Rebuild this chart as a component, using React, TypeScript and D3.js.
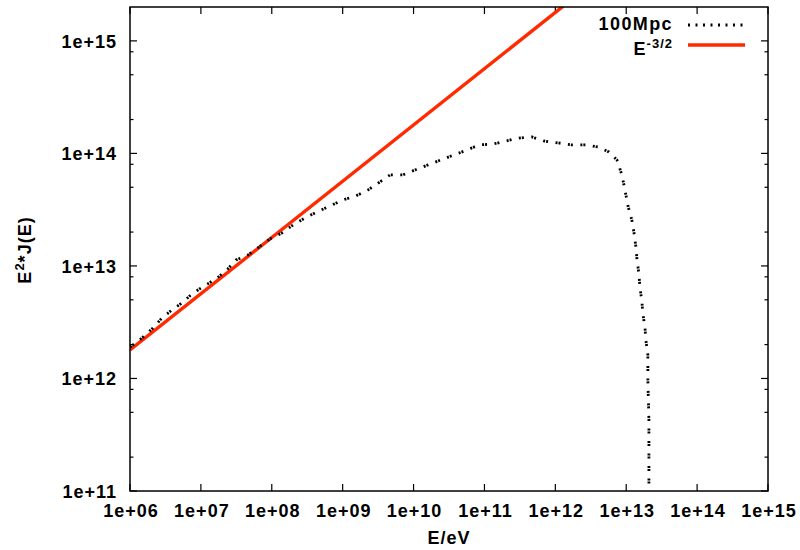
import React from "react";
import * as d3 from "d3";

const energy = [
  1.0e6, 1.48e6, 2.11e6, 2.82e6, 3.91e6, 5.41e6, 7.48e6, 1.11e7, 1.63e7, 2.33e7,
  3.13e7, 4.61e7, 6.38e7, 9.44e7, 1.39e8, 1.99e8, 2.94e8, 4.35e8, 6.62e8, 1.01e9,
  1.54e9, 2.28e9, 3.36e9, 4.65e9, 7.08e9, 1.05e10, 1.6e10, 2.43e10, 3.72e10, 5.66e10,
  8.36e10, 1.32e11, 2.01e11, 3.07e11, 4.68e11, 6.9e11, 1.09e12, 1.71e12, 2.7e12, 3.99e12,
  5.7e12, 7.4e12, 8.69e12, 9.59e12, 1.06e13, 1.2e13, 1.29e13, 1.37e13, 1.42e13, 1.51e13,
  1.56e13, 1.66e13, 1.72e13, 1.84e13, 1.9e13, 2.02e13, 2.02e13, 2.09e13, 2.09e13,
];
const flux100Mpc = [
  1.9e12, 2.29e12, 2.81e12, 3.45e12, 4.06e12, 4.69e12, 5.64e12, 6.64e12, 7.66e12, 9.2e12,
  1.13e13, 1.25e13, 1.45e13, 1.74e13, 1.96e13, 2.31e13, 2.67e13, 3.02e13, 3.41e13, 3.86e13,
  4.19e13, 4.74e13, 5.58e13, 6.44e13, 6.44e13, 7.13e13, 7.9e13, 8.75e13, 9.7e13, 1.07e14,
  1.19e14, 1.21e14, 1.29e14, 1.37e14, 1.4e14, 1.29e14, 1.24e14, 1.19e14, 1.19e14, 1.14e14,
  1.03e14, 8.75e13, 6.44e13, 4.74e13, 3.41e13, 2.56e13, 1.96e13, 1.47e13, 1.13e13, 8.5e12,
  6.5e12, 4.9e12, 3.74e12, 2.81e12, 2.15e12, 1.62e12, 9.7e11, 4.3e11, 5e10,
];
const powerLawE = [1e6, 1e15];
const powerLawFlux = [1.79e12, 5.66e16];

const xTicks = [1e6, 1e7, 1e8, 1e9, 1e10, 1e11, 1e12, 1e13, 1e14, 1e15];
const xTickLabels = ["1e+06", "1e+07", "1e+08", "1e+09", "1e+10", "1e+11", "1e+12", "1e+13", "1e+14", "1e+15"];
const yTicks = [1e11, 1e12, 1e13, 1e14, 1e15];
const yTickLabels = ["1e+11", "1e+12", "1e+13", "1e+14", "1e+15"];
const yMinorMultipliers = [2, 5, 8];

const FONT = "'Liberation Sans', Arial, sans-serif";

export default function App() {
  const L = 130, R = 768, T = 7, B = 491;
  const x = d3.scaleLog().domain([1e6, 1e15]).range([L, R]);
  const y = d3.scaleLog().domain([1e11, 2e15]).range([B, T]);

  const pts: [number, number][] = energy.map((e, i) => [e, flux100Mpc[i]]);
  const plPts: [number, number][] = powerLawE.map((e, i) => [e, powerLawFlux[i]]);
  const line = d3.line<[number, number]>().x((d) => x(d[0])).y((d) => y(d[1]));

  const yMinor: number[] = [];
  yTicks.forEach((t) => yMinorMultipliers.forEach((m) => {
    const v = t * m;
    if (v < 2e15) yMinor.push(v);
  }));

  const textStyle = { fontFamily: FONT, fontWeight: 700, fontSize: 18, letterSpacing: 1, fill: "#000" } as const;

  return (
    <svg width={800} height={550} style={{ position: "absolute", left: 0, top: 0, background: "#fff" }}>
      <rect x={0} y={0} width={800} height={550} fill="#fff" />
      <defs>
        <clipPath id="plotclip">
          <rect x={L} y={T} width={R - L} height={B - T} />
        </clipPath>
      </defs>

      {/* ticks */}
      <g stroke="#000" strokeWidth={1.2}>
        {xTicks.map((t, i) => (
          <g key={"xt" + i}>
            <line x1={x(t)} x2={x(t)} y1={B} y2={B - 7} />
            <line x1={x(t)} x2={x(t)} y1={T} y2={T + 7} />
          </g>
        ))}
        {yTicks.map((t, i) => (
          <g key={"yt" + i}>
            <line x1={L} x2={L + 7} y1={y(t)} y2={y(t)} />
            <line x1={R} x2={R - 7} y1={y(t)} y2={y(t)} />
          </g>
        ))}
        {yMinor.map((t, i) => (
          <g key={"ym" + i}>
            <line x1={L} x2={L + 3.5} y1={y(t)} y2={y(t)} />
            <line x1={R} x2={R - 3.5} y1={y(t)} y2={y(t)} />
          </g>
        ))}
      </g>

      {/* tick labels */}
      {xTicks.map((t, i) => (
        <text key={"xl" + i} x={x(t) + 1} y={517} textAnchor="middle" style={textStyle}>
          {xTickLabels[i]}
        </text>
      ))}
      {yTicks.map((t, i) => (
        <text key={"yl" + i} x={117} y={y(t) + 7} textAnchor="end" style={textStyle}>
          {yTickLabels[i]}
        </text>
      ))}

      {/* axis titles */}
      <text x={449} y={544} textAnchor="middle" style={textStyle}>E/eV</text>
      <text transform="translate(31,250) rotate(-90)" textAnchor="middle" style={textStyle}>
        E<tspan dy={-7} fontSize={13}>2</tspan><tspan dy={7}>*J(E)</tspan>
      </text>

      {/* data */}
      <g clipPath="url(#plotclip)">
        <path d={line(plPts) || ""} fill="none" stroke="#ff2a00" strokeWidth={3.4} />
        <path d={line(pts) || ""} fill="none" stroke="#000" strokeWidth={2.8} strokeDasharray="2 1 2 7.5" />
      </g>

      {/* legend */}
      <text x={673} y={30} textAnchor="end" style={{ ...textStyle, letterSpacing: 1.4 }}>100Mpc</text>
      <line x1={688} x2={745} y1={25} y2={25} stroke="#000" strokeWidth={2.8} strokeDasharray="2 5.5" />
      <text x={673} y={55} textAnchor="end" style={textStyle}>
        E<tspan dy={-7} fontSize={13}>-3/2</tspan>
      </text>
      <line x1={688} x2={745} y1={45} y2={45} stroke="#ff2a00" strokeWidth={3.4} />

      {/* border */}
      <rect x={L} y={T} width={R - L} height={B - T} fill="none" stroke="#000" strokeWidth={1.5} />
    </svg>
  );
}
